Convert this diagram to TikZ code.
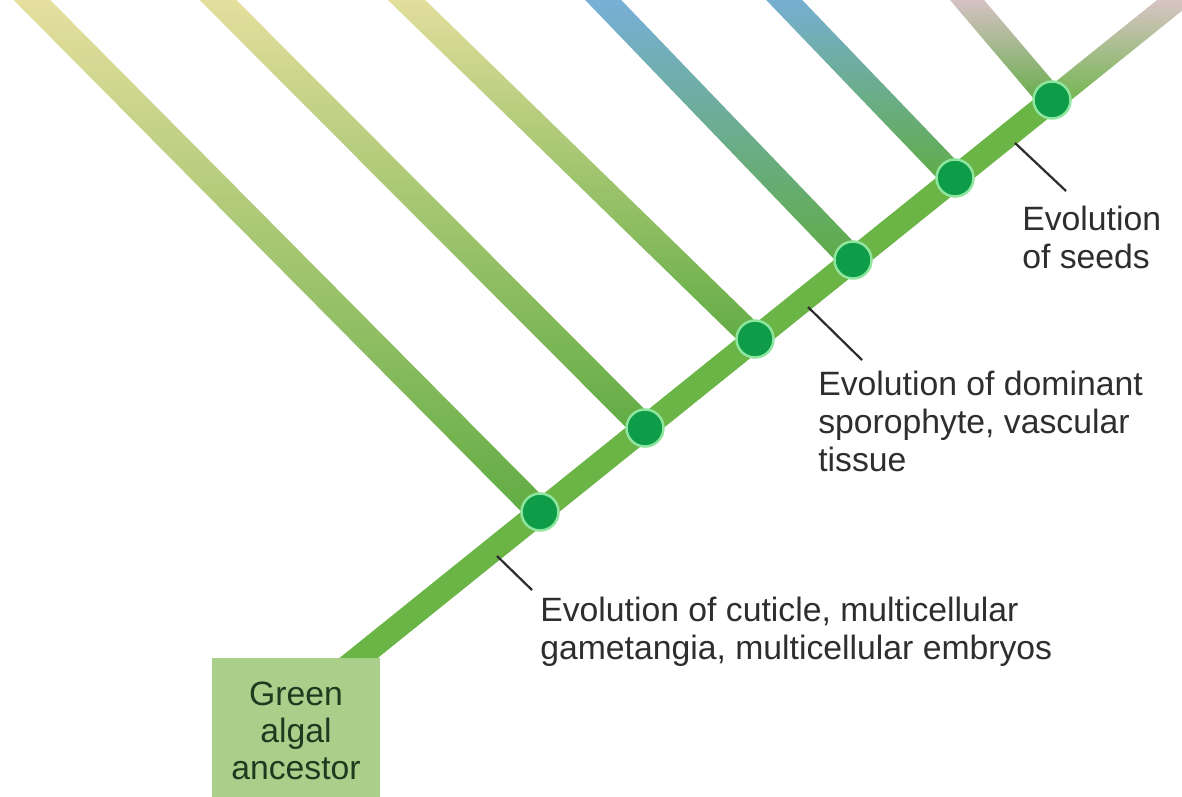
\documentclass[tikz,border=0pt]{standalone}
\usepackage{fontspec}
\setmainfont{Liberation Sans}
\usetikzlibrary{calc,backgrounds}
\definecolor{stem}{HTML}{6BB547}
\definecolor{limb}{HTML}{5FAB42}
\definecolor{straw}{HTML}{EDE2A3}
\definecolor{sky}{HTML}{7AAFE8}
\definecolor{blush}{HTML}{F5C8E6}
\definecolor{moss}{HTML}{A9CF8B}
\definecolor{mossink}{HTML}{1F3B1F}
\definecolor{knotfill}{HTML}{0E9C48}
\definecolor{knotedge}{HTML}{8EE59E}
\definecolor{ink}{HTML}{2E2E2E}
\tikzset{
  knot/.style={circle,fill=knotfill,draw=knotedge,line width=.05cm,minimum size=.74cm,inner sep=0pt},
  lab/.style={font=\fontsize{19.2}{21.6}\selectfont,text=ink,align=left,inner sep=0pt,anchor=base west},
  ancestor/.style={fill=moss,text=mossink,font=\fontsize{19.2}{21.2}\selectfont,align=center,minimum width=3.36cm,minimum height=2.9cm,anchor=north,inner sep=0pt},
  lead/.style={draw=ink,line width=.045cm}
}
\begin{document}
\begin{tikzpicture}[x=.02cm,y=-.02cm]
                \useasboundingbox(0,0)rectangle(1182,797);
                \node[knot](1)at(540,512){};
                \node[knot](2)at(645,428){};
                \node[knot](3)at(755,339){};
                \node[knot](4)at(853,260){};
                \node[knot](5)at(955,178){};
                \node[knot](6)at(1052,100){};
                \coordinate(t1)at(12,-20);
                \coordinate(t2)at(198,-20);
                \coordinate(t3)at(386,-20);
                \coordinate(t4)at(584,-20);
                \coordinate(t5)at(765,-20);
                \coordinate(t6)at(950,-20);
                \coordinate(t7)at(1201,-20);
                \coordinate(r)at(330,681);
                \begin{scope}[on background layer]
                % side branches
                \shade[top color=straw,bottom color=limb]($(1.center)!.26cm!90:(t1)$)--($(t1)!.26cm!-90:(1.center)$)--($(t1)!.26cm!90:(1.center)$)--($(1.center)!.26cm!-90:(t1)$)--cycle;
                \shade[top color=straw,bottom color=limb]($(2.center)!.26cm!90:(t2)$)--($(t2)!.26cm!-90:(2.center)$)--($(t2)!.26cm!90:(2.center)$)--($(2.center)!.26cm!-90:(t2)$)--cycle;
                \shade[top color=straw,bottom color=limb]($(3.center)!.26cm!90:(t3)$)--($(t3)!.26cm!-90:(3.center)$)--($(t3)!.26cm!90:(3.center)$)--($(3.center)!.26cm!-90:(t3)$)--cycle;
                \shade[top color=sky,bottom color=limb]($(4.center)!.26cm!90:(t4)$)--($(t4)!.26cm!-90:(4.center)$)--($(t4)!.26cm!90:(4.center)$)--($(4.center)!.26cm!-90:(t4)$)--cycle;
                \shade[top color=sky,bottom color=limb]($(5.center)!.26cm!90:(t5)$)--($(t5)!.26cm!-90:(5.center)$)--($(t5)!.26cm!90:(5.center)$)--($(5.center)!.26cm!-90:(t5)$)--cycle;
                \shade[top color=blush,bottom color=limb]($(6.center)!.26cm!90:(t6)$)--($(t6)!.26cm!-90:(6.center)$)--($(t6)!.26cm!90:(6.center)$)--($(6.center)!.26cm!-90:(t6)$)--cycle;
                % main stem
                \draw[line width=.48cm,stem](r)--(6.center);
                \shade[top color=blush,bottom color=stem]($(6.center)!.24cm!90:(t7)$)--($(t7)!.24cm!-90:(6.center)$)--($(t7)!.24cm!90:(6.center)$)--($(6.center)!.24cm!-90:(t7)$)--cycle;
                \end{scope}
                \node[ancestor](0)at(296,658){Green\\algal\\ancestor};
                \node[lab](a)at(540,659){Evolution of cuticle, multicellular\\gametangia, multicellular embryos};
                \node[lab](b)at(818,471){Evolution of dominant\\sporophyte, vascular\\tissue};
                \node[lab](c)at(1022,268){Evolution\\of seeds};
                \coordinate(p1)at(497,556);
                \coordinate(q1)at(532,590);
                \coordinate(p2)at(808,307);
                \coordinate(q2)at(862,360);
                \coordinate(p3)at(1015,143);
                \coordinate(q3)at(1066,191);
                \draw[lead](p1)--(q1);
                \draw[lead](p2)--(q2);
                \draw[lead](p3)--(q3);
            \end{tikzpicture}
\end{document}
